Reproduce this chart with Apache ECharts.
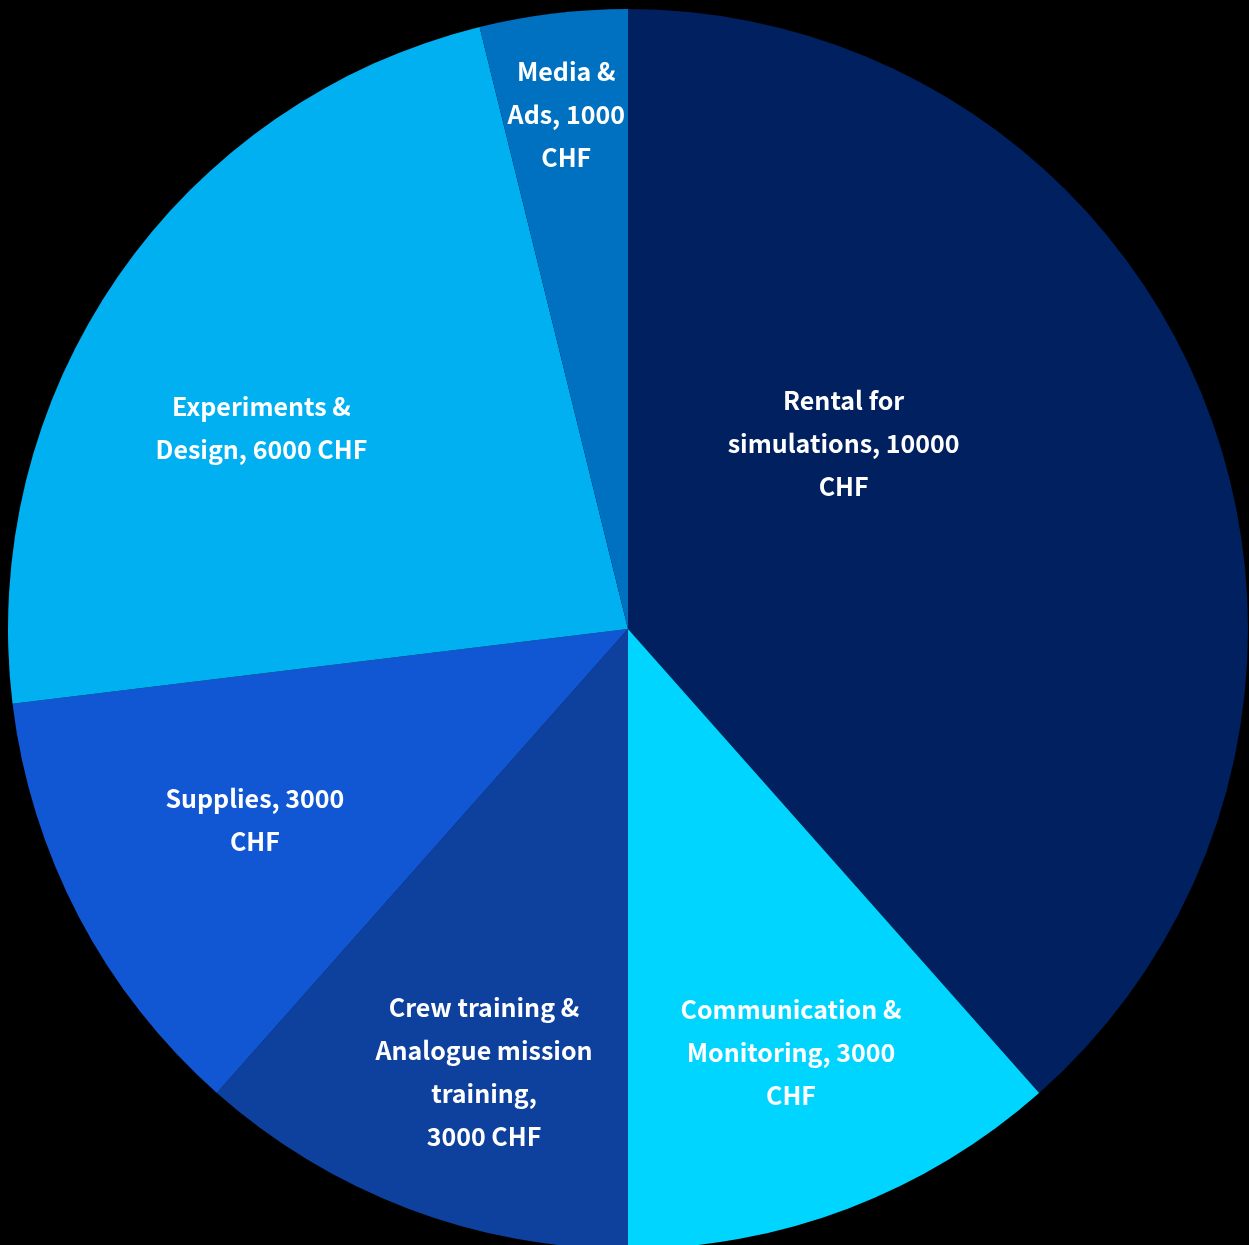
<!DOCTYPE html>
<html>
<head>
<meta charset="utf-8">
<style>
  html, body { margin: 0; padding: 0; background: #000000; }
  #chart { width: 1249px; height: 1245px; }
</style>
<script src="https://cdn.jsdelivr.net/npm/echarts@6/dist/echarts.min.js"></script>
</head>
<body>
<div id="chart"></div>
<script>
  // slice names and amounts (CHF), clockwise from 12 o'clock
  var names = ['Rental for simulations', 'Communication & Monitoring', 'Crew training & Analogue mission training', 'Supplies', 'Experiments & Design', 'Media & Ads'];
  var amounts = [10000, 3000, 3000, 3000, 6000, 1000];
  var labelTexts = [
    'Rental for\nsimulations, 10000\nCHF',
    'Communication &\nMonitoring, 3000\nCHF',
    'Crew training &\nAnalogue mission\ntraining,\n3000 CHF',
    'Supplies, 3000\nCHF',
    'Experiments &\nDesign, 6000 CHF',
    'Media &\nAds, 1000\nCHF'
  ];
  var colors = ['#002060', '#00D5FF', '#0E419E', '#1157D4', '#00B0F0', '#0070C0'];
  // nudge labels away from the default mid-radius spot (layout only)
  var labelOffsets = [[-77, -75], [52, 131], [-33, 150], [-96, 46], [-109, -23], [-24, -204]];

  var chart = echarts.init(document.getElementById('chart'));
  var data = [];
  for (var i = 0; i < names.length; i++) {
    data.push({
      name: names[i],
      value: amounts[i],
      itemStyle: { color: colors[i] },
      label: { formatter: labelTexts[i], offset: labelOffsets[i] }
    });
  }

  chart.setOption({
    backgroundColor: '#000000',
    animation: false,
    series: [{
      type: 'pie',
      center: [628, 629],
      radius: 620,
      startAngle: 90,
      clockwise: true,
      silent: true,
      itemStyle: { borderWidth: 0 },
      label: {
        show: true,
        position: 'inside',
        color: '#ffffff',
        fontFamily: 'Noto Sans CJK JP',
        fontWeight: 'bold',
        fontSize: 25,
        lineHeight: 43,
        align: 'center'
      },
      labelLine: { show: false },
      data: data
    }]
  });
</script>
</body>
</html>
